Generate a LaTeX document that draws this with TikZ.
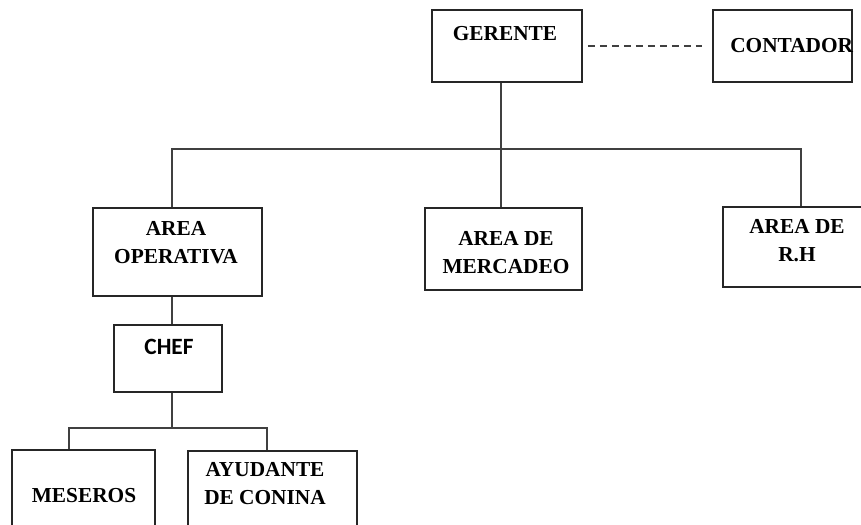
\documentclass[tikz,border=0pt]{standalone}
\usepackage{fontspec}
\setmainfont{Liberation Serif}
\newfontfamily\chefsans{Carlito}
\usetikzlibrary{positioning,fit}

\begin{document}
\begin{tikzpicture}[x=0.75pt, y=-0.75pt,
    font=\fontsize{16}{20.3}\selectfont\bfseries,
    every node/.style={align=center},
    box/.style={draw=black!85, line width=0.9pt, inner sep=0pt},
    link/.style={draw=black!75, line width=0.8pt}]
  \useasboundingbox (0,0) rectangle (861,525);
  % boxes
  \node[box, fit={(432,10) (582,82)}]   (ger)  {};
  \node[box, fit={(713,10) (852,82)}]   (cont) {};
  \node[box, fit={(93,208) (262,296)}]  (oper) {};
  \node[box, fit={(425,208) (582,290)}] (merc) {};
  \node[box, fit={(723,207) (880,287)}] (rh)   {};
  \node[box, fit={(114,325) (222,392)}] (chef) {};
  \node[box, fit={(12,450) (155,545)}]  (mes)  {};
  \node[box, fit={(188,451) (357,545)}] (ayu)  {};
  % texts
  \node[anchor=base] (gerT) at (505,40) {GERENTE};
  \node[anchor=base west, inner sep=0pt] (contT) at (730,52) {CONTADOR};
  \node[anchor=base] (operT) at (176,263) {AREA\\OPERATIVA};
  \node[anchor=base] (mercT) at (506,273) {AREA DE\\MERCADEO};
  \node[anchor=base] (rhT) at (797,261) {AREA DE\\R.H};
  \node[anchor=base, font=\fontsize{17.5}{20}\selectfont\chefsans\bfseries] (chefT) at (169,354) {CHEF};
  \node[anchor=base] (mesT) at (84,502) {MESEROS};
  \node[anchor=base] (ayuT) at (265,504) {AYUDANTE\\DE CONINA};
  % connectors
  \coordinate (busM) at (501,149);
  \coordinate (busL) at (172,149);
  \coordinate (busR) at (801,149);
  \coordinate (subC) at (172,428);
  \coordinate (subL) at (69,428);
  \coordinate (subR) at (267,428);
  \draw[link] (busM |- ger.south) -- (busM |- merc.north);
  \draw[link] (busL |- oper.north) -- (busL) -- (busR) -- (busR |- rh.north);
  \draw[link] (busL |- oper.south) -- (busL |- chef.north);
  \draw[link] (subC |- chef.south) -- (subC);
  \draw[link] (subL |- mes.north) -- (subL) -- (subR) -- (subR |- ayu.north);
  \draw[link, dash pattern=on 5pt off 4pt] ([xshift=4pt]ger.east) -- ([xshift=-7.5pt]cont.west);
\end{tikzpicture}
\end{document}
